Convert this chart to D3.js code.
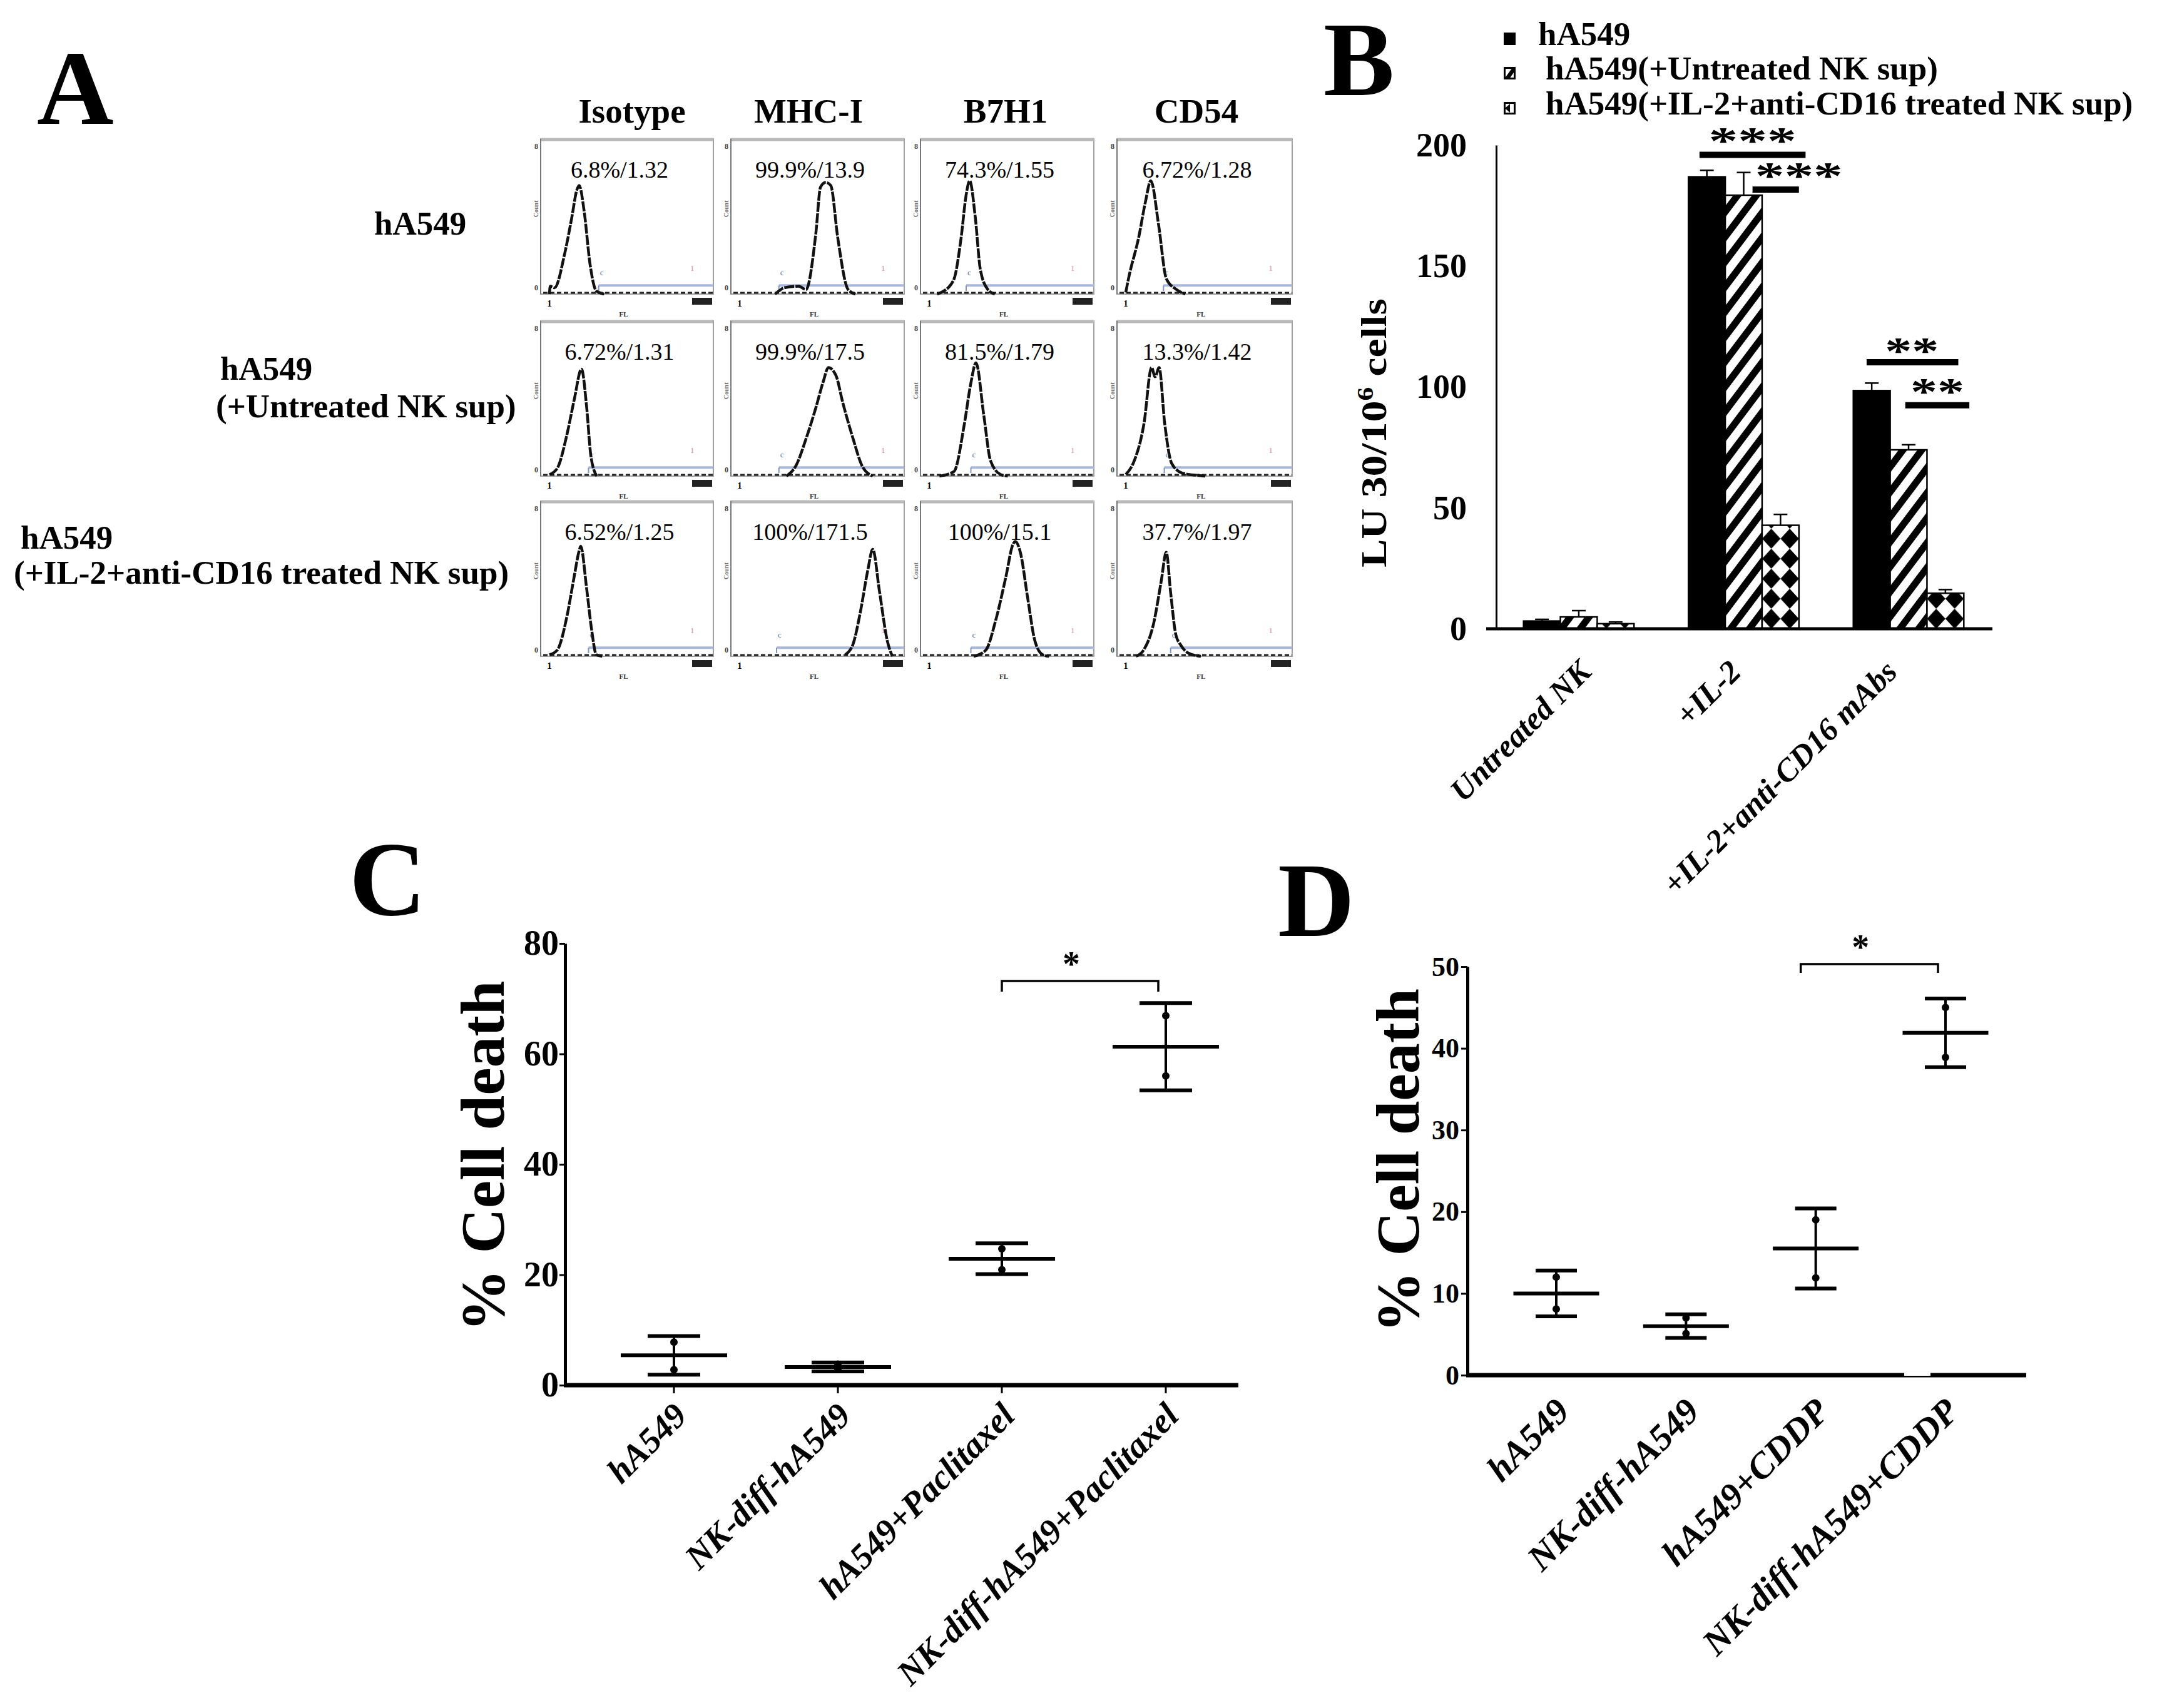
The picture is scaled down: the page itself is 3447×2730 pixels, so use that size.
<!DOCTYPE html>
<html><head><meta charset="utf-8">
<script src="https://cdn.jsdelivr.net/npm/d3@7"></script>
<style>body{margin:0;background:#fff} svg{display:block}</style>
</head><body><svg id="fig" width="3447" height="2730"></svg>
<script>
// ---------------- DATA ----------------
// Panel A : flow-cytometry histograms
const histCols = ["Isotype", "MHC-I", "B7H1", "CD54"];
const histRowLabels = [["hA549"], ["hA549", "(+Untreated NK sup)"], ["hA549", "(+IL-2+anti-CD16 treated NK sup)"]];
const histStats = [
  ["6.8%/1.32", "99.9%/13.9", "74.3%/1.55", "6.72%/1.28"],
  ["6.72%/1.31", "99.9%/17.5", "81.5%/1.79", "13.3%/1.42"],
  ["6.52%/1.25", "100%/171.5", "100%/15.1", "37.7%/1.97"]
];
// [log10 decade, relative height] points
const histCurves = [
  [
    [[0,0],[0.02,0.05],[0.13,0.04],[0.39,0.26],[0.57,0.49],[0.7,0.67],[0.76,0.70],[0.89,0.53],[1.04,0.19],[1.2,0.02],[1.4,0]],
    [[0.9,0],[1.0,0.02],[1.13,0.04],[1.5,0.05],[1.69,0.03],[1.94,0.39],[2.06,0.69],[2.19,0.72],[2.32,0.70],[2.5,0.36],[2.76,0.03],[2.95,0]],
    [[0.2,0],[0.3,0.01],[0.62,0.09],[0.81,0.36],[0.94,0.64],[1.03,0.73],[1.17,0.5],[1.3,0.16],[1.49,0.03],[1.67,0]],
    [[0,0.01],[0.07,0.1],[0.33,0.37],[0.5,0.6],[0.63,0.73],[0.83,0.44],[1.02,0.1],[1.27,0.03],[1.5,0]]
  ],
  [
    [[0,0.01],[0.2,0.05],[0.45,0.27],[0.64,0.5],[0.82,0.69],[0.95,0.45],[1.06,0.13],[1.21,0]],
    [[1.19,0],[1.44,0.07],[1.69,0.24],[1.94,0.44],[2.13,0.61],[2.26,0.70],[2.45,0.65],[2.63,0.47],[2.89,0.24],[3.13,0.06],[3.39,0]],
    [[0.26,0],[0.63,0.03],[0.89,0.33],[1.06,0.6],[1.19,0.73],[1.39,0.39],[1.56,0.1],[1.82,0.01],[2.0,0]],
    [[0,0.01],[0.2,0.09],[0.46,0.34],[0.65,0.7],[0.74,0.64],[0.84,0.7],[0.98,0.34],[1.16,0.08],[1.42,0.02],[1.8,0.005],[2.0,0]]
  ],
  [
    [[0,0.01],[0.2,0.04],[0.45,0.26],[0.63,0.51],[0.76,0.68],[0.8,0.71],[0.95,0.44],[1.08,0.17],[1.2,0.01],[1.35,0]],
    [[2.69,0.01],[2.89,0.08],[3.07,0.28],[3.26,0.55],[3.39,0.69],[3.56,0.42],[3.76,0.1],[3.89,0]],
    [[1.13,0],[1.44,0.04],[1.69,0.23],[1.95,0.51],[2.13,0.72],[2.19,0.74],[2.32,0.67],[2.51,0.37],[2.69,0.1],[2.89,0.01],[3.05,0]],
    [[0.26,0],[0.45,0.04],[0.7,0.21],[0.89,0.48],[1.02,0.67],[1.13,0.41],[1.26,0.14],[1.39,0.07],[1.58,0.02],[1.89,0]]
  ]
];
const histGateStart = [[1.26, 1.0, 0.94, 0.95], [1.0, 1.0, 1.06, 0.97], [1.0, 0.94, 1.06, 1.13]];

// Panel B : grouped bars
const bCategories = ["Untreated NK", "+IL-2", "+IL-2+anti-CD16 mAbs"];
const bSeries = ["hA549", "hA549(+Untreated NK sup)", "hA549(+IL-2+anti-CD16 treated NK sup)"];
const bValues = [[3.2, 186.9, 98.5], [4.9, 179.3, 74.0], [2.1, 42.8, 14.7]];
const bErrors = [[0.7, 2.7, 3.1], [2.6, 9.4, 2.1], [0.7, 4.5, 1.5]];
const bTicks = [0, 50, 100, 150, 200];
const bSigLabels = ["***", "***", "**", "**"];
const bSigGroup = [1, 1, 2, 2];
const bSigValue = [196, 181.6, 110.2, 92.4];

// Panel C : % cell death, paclitaxel
const cCategories = ["hA549", "NK-diff-hA549", "hA549+Paclitaxel", "NK-diff-hA549+Paclitaxel"];
const cMean = [5.4, 3.3, 22.9, 61.3];
const cSD = [3.5, 0.8, 2.8, 7.9];
const cPoints = [[7.8, 2.8], [3.8, 2.9], [24.7, 20.9], [66.9, 56.0]];
const cTicks = [0, 20, 40, 60, 80];

// Panel D : % cell death, CDDP
const dCategories = ["hA549", "NK-diff-hA549", "hA549+CDDP", "NK-diff-hA549+CDDP"];
const dMean = [10.0, 6.0, 15.5, 41.9];
const dSD = [2.8, 1.45, 4.9, 4.2];
const dPoints = [[12.0, 8.1], [7.0, 5.1], [19.0, 11.9], [45.0, 38.9]];
const dTicks = [0, 10, 20, 30, 40, 50];

// ---------------- DRAWING ----------------
const FONT = "'Liberation Serif','Times New Roman',serif";
const svg = d3.select("#fig");
svg.append("rect").attr("width", 3447).attr("height", 2730).attr("fill", "#fff");
const defs = svg.append("defs");

function txt(g, s, x, y, size, opts = {}) {
  const t = g.append("text").attr("x", x).attr("y", y).text(s)
    .attr("font-family", FONT).attr("font-size", size)
    .attr("font-weight", opts.weight || "bold").attr("fill", opts.fill || "#000")
    .attr("text-anchor", opts.anchor || "start");
  if (opts.italic) t.attr("font-style", "italic");
  if (opts.transform) t.attr("transform", opts.transform);
  if (opts.dy) t.attr("dy", opts.dy);
  if (opts.len) t.attr("textLength", opts.len).attr("lengthAdjust", "spacingAndGlyphs");
  return t;
}

// Panel letters
[["A", 59, 198], ["B", 2115, 152], ["C", 558, 1462], ["D", 2042, 1496]].forEach(([l, x, y]) => txt(svg, l, x, y, 170));

// ===== Panel A =====
const gA = svg.append("g");
const aColX = [864, 1168, 1471, 1785];
const aColW = [276, 277, 277, 280];
const aRowY = [222, 513, 801];
const aBoxH = 248;
const aHeadX = [1010, 1292, 1607, 1912];
histCols.forEach((c, i) => txt(gA, c, aHeadX[i], 196, 55, { anchor: "middle" }));
const rowLabelPos = [[[598, 375]], [[352, 607], [345, 667]], [[33, 877], [22, 933]]];
histRowLabels.forEach((lines, r) => lines.forEach((s, k) => txt(gA, s, rowLabelPos[r][k][0], rowLabelPos[r][k][1], 53)));

histCurves.forEach((row, r) => row.forEach((pts, c) => {
  const x0 = aColX[c], w = aColW[c], y0 = aRowY[r], yb = y0 + aBoxH;
  const xs = d3.scaleLinear().domain([0, 4]).range([x0 + 14, x0 + w - 12]);
  const ys = d3.scaleLinear().domain([0, 1]).range([yb, y0]);
  const g = gA.append("g");
  g.append("rect").attr("x", x0).attr("y", y0).attr("width", w).attr("height", aBoxH)
    .attr("fill", "none").attr("stroke", "#a0a0a0").attr("stroke-width", 2);
  g.append("line").attr("x1", x0).attr("x2", x0 + w).attr("y1", y0 + 1).attr("y2", y0 + 1)
    .attr("stroke", "#b8b8b8").attr("stroke-width", 5);
  g.append("line").attr("x1", x0).attr("x2", x0).attr("y1", y0).attr("y2", yb).attr("stroke", "#777").attr("stroke-width", 2);
  txt(g, "8", x0 - 4, y0 + 16, 12, { anchor: "end", fill: "#444" });
  txt(g, "0", x0 - 4, yb - 6, 12, { anchor: "end", fill: "#444" });
  txt(g, "Count", x0 - 4, y0 + aBoxH * 0.45, 10, { anchor: "middle", fill: "#666", transform: `rotate(-90,${x0 - 4},${y0 + aBoxH * 0.45})` });
  const gx = xs(histGateStart[r][c]);
  g.append("line").attr("x1", gx).attr("x2", x0 + w).attr("y1", ys(0.055)).attr("y2", ys(0.055))
    .attr("stroke", "#a9b8dc").attr("stroke-width", 4);
  g.append("line").attr("x1", gx).attr("x2", gx).attr("y1", ys(0.055)).attr("y2", ys(0.02))
    .attr("stroke", "#7f93c8").attr("stroke-width", 2);
  txt(g, "c", gx + 2, ys(0.12), 13, { fill: "#5570b0", weight: "normal" });
  txt(g, "1", xs(3.6), ys(0.15), 13, { fill: "#e08aa0", weight: "normal" });
  g.append("line").attr("x1", x0 + 4).attr("x2", x0 + w).attr("y1", yb - 2).attr("y2", yb - 2)
    .attr("stroke", "#222").attr("stroke-width", 3).attr("stroke-dasharray", "7,4");
  txt(g, "1", xs(0), yb + 20, 15, { anchor: "middle" });
  g.append("rect").attr("x", x0 + w - 34).attr("y", yb + 6).attr("width", 32).attr("height", 11).attr("fill", "#222");
  txt(g, "FL", x0 + w * 0.48, yb + 36, 11, { anchor: "middle", fill: "#333" });
  g.append("path").datum(pts)
    .attr("d", d3.line().x(d => xs(d[0])).y(d => ys(d[1])).curve(d3.curveMonotoneX))
    .attr("fill", "none").attr("stroke", "#111").attr("stroke-width", 4.5)
    .attr("stroke-dasharray", "16,2").attr("stroke-linejoin", "round");
  txt(g, histStats[r][c], x0 + w / 2 - 12, y0 + 62, 38, { anchor: "middle", weight: "normal" });
}));

// ===== Panel B =====
const gB = svg.append("g");
const xB = d3.scaleBand().domain(bCategories).range([2382, 3191]).paddingInner(0.33).paddingOuter(0.2);
const xBs = d3.scaleBand().domain(d3.range(bSeries.length)).range([0, xB.bandwidth()]);
const yB = d3.scaleLinear().domain([0, 200]).range([1005, 232]);

const hatch = defs.append("pattern").attr("id", "hatch").attr("patternUnits", "userSpaceOnUse")
  .attr("width", 24).attr("height", 24).attr("patternTransform", "rotate(37)");
hatch.append("rect").attr("width", 24).attr("height", 24).attr("fill", "#fff");
hatch.append("rect").attr("width", 11).attr("height", 24).attr("fill", "#000");
bCategories.forEach((cat, gi) => {
  const bw = xBs.bandwidth();
  const p = defs.append("pattern").attr("id", "diam" + gi).attr("patternUnits", "userSpaceOnUse")
    .attr("x", xB(cat) + xBs(2)).attr("y", yB(0)).attr("width", bw / 2).attr("height", 32);
  p.append("rect").attr("width", bw / 2).attr("height", 32).attr("fill", "#fff");
  p.append("polygon").attr("points", `${bw / 4},0 ${bw / 2},16 ${bw / 4},32 0,16`).attr("fill", "#000");
});
const fills = (s, gi) => s === 0 ? "#000" : s === 1 ? "url(#hatch)" : `url(#diam${gi})`;

bSeries.forEach((ser, s) => {
  bCategories.forEach((cat, gi) => {
    const v = bValues[s][gi], e = bErrors[s][gi];
    const x = xB(cat) + xBs(s), bw = xBs.bandwidth();
    gB.append("line").attr("x1", x + bw / 2).attr("x2", x + bw / 2).attr("y1", yB(v)).attr("y2", yB(v + e))
      .attr("stroke", "#000").attr("stroke-width", 2.5);
    gB.append("line").attr("x1", x + bw / 2 - 11).attr("x2", x + bw / 2 + 11).attr("y1", yB(v + e)).attr("y2", yB(v + e))
      .attr("stroke", "#000").attr("stroke-width", 2.5);
    gB.append("rect").attr("x", x).attr("y", yB(v)).attr("width", bw).attr("height", yB(0) - yB(v))
      .attr("fill", fills(s, gi)).attr("stroke", "#000").attr("stroke-width", 2.5);
  });
});
const gyB = gB.append("g").attr("transform", "translate(2391,0)")
  .call(d3.axisLeft(yB).tickValues(bTicks).tickSize(0).tickSizeOuter(0).tickPadding(47));
gyB.attr("font-family", FONT).attr("font-size", 54).attr("font-weight", "bold");
gyB.select(".domain").attr("stroke", "#000").attr("stroke-width", 3);
gB.append("line").attr("x1", 2375).attr("x2", 3184).attr("y1", yB(0)).attr("y2", yB(0)).attr("stroke", "#000").attr("stroke-width", 5);
const bLabelShift = [10, -14, -28];
bCategories.forEach((cat, i) => {
  const x = xB(cat) + xB.bandwidth() / 2 + bLabelShift[i], y = 1064;
  txt(gB, cat, x, y, 51, { anchor: "end", italic: true, dy: "0.35em", transform: `rotate(-45,${x},${y})` });
});
const yLabB = gB.append("text").attr("transform", "translate(2215,692) rotate(-90)")
  .attr("text-anchor", "middle").attr("font-family", FONT).attr("font-weight", "bold").attr("font-size", 56)
  .attr("textLength", 430).attr("lengthAdjust", "spacingAndGlyphs");
yLabB.append("tspan").text("LU 30/10");
yLabB.append("tspan").text("6").attr("font-size", 36).attr("dy", -21);
yLabB.append("tspan").text(" cells").attr("dy", 21);
const sigF0 = [0.1, 0.58, 0.12, 0.47], sigF1 = [1.06, 1.0, 0.95, 1.05], sigTxt = [0.58, 1.0, 0.53, 0.76];
bSigLabels.forEach((s, i) => {
  const gx = xB(bCategories[bSigGroup[i]]), bw = xB.bandwidth();
  const y = yB(bSigValue[i]);
  gB.append("line").attr("x1", gx + sigF0[i] * bw).attr("x2", gx + sigF1[i] * bw).attr("y1", y).attr("y2", y)
    .attr("stroke", "#000").attr("stroke-width", 10);
  txt(gB, s, gx + sigTxt[i] * bw, y + (i === 2 ? 2 : -2), 62, { anchor: "middle", len: s.length === 3 ? 140 : 86 });
});
const legY = [72, 127, 183], legTX = [2458, 2470, 2470];
bSeries.forEach((s, i) => {
  const sq = gB.append("g").attr("transform", `translate(2403,${legY[i] - 20})`);
  if (i === 0) sq.append("rect").attr("width", 19).attr("height", 20).attr("fill", "#000");
  else {
    sq.append("rect").attr("x", 1.5).attr("y", 1.5).attr("width", 16).attr("height", 17).attr("fill", "#fff").attr("stroke", "#000").attr("stroke-width", 3);
    if (i === 1) sq.append("polygon").attr("points", "1,19 9,19 18,6 18,1 14,1").attr("fill", "#000");
    else sq.append("polygon").attr("points", "2,10 10,3 10,17").attr("fill", "#000");
  }
  txt(gB, s, legTX[i], legY[i], 53);
});

// ===== Panels C & D (scatter with mean ± SD) =====
function dotPanel(cfg) {
  const g = svg.append("g");
  const y = d3.scaleLinear().domain(cfg.domain).range(cfg.yRange);
  const x = d3.scalePoint().domain(cfg.cats).range(cfg.xRange);
  const ga = g.append("g").attr("transform", `translate(${cfg.axisX},0)`)
    .call(d3.axisLeft(y).tickValues(cfg.ticks).tickSize(cfg.tickLen).tickSizeOuter(0).tickPadding(cfg.pad));
  ga.attr("font-family", FONT).attr("font-size", cfg.tickFont).attr("font-weight", "bold");
  ga.select(".domain").attr("stroke", "#000").attr("stroke-width", 5);
  ga.selectAll(".tick line").attr("stroke-width", 3);
  g.append("line").attr("x1", cfg.axisX - 2).attr("x2", cfg.axisEnd).attr("y1", y(0)).attr("y2", y(0))
    .attr("stroke", "#000").attr("stroke-width", 7);
  if (cfg.xTicks) cfg.cats.forEach(c => g.append("line").attr("x1", x(c)).attr("x2", x(c)).attr("y1", y(0)).attr("y2", y(0) + 13).attr("stroke", "#000").attr("stroke-width", 3));
  if (cfg.gap) g.append("rect").attr("x", cfg.gap[0]).attr("y", y(0) - 5).attr("width", cfg.gap[1] - cfg.gap[0]).attr("height", 6).attr("fill", "#fff");
  cfg.cats.forEach((c, i) => {
    const cx = x(c), m = cfg.mean[i], sd = cfg.sd[i];
    g.append("line").attr("x1", cx).attr("x2", cx).attr("y1", y(m - sd)).attr("y2", y(m + sd)).attr("stroke", "#000").attr("stroke-width", 4);
    [m - sd, m + sd].forEach(v => g.append("line").attr("x1", cx - cfg.capW / 2).attr("x2", cx + cfg.capW / 2)
      .attr("y1", y(v)).attr("y2", y(v)).attr("stroke", "#000").attr("stroke-width", 6));
    g.append("line").attr("x1", cx - cfg.meanW / 2).attr("x2", cx + cfg.meanW / 2).attr("y1", y(m)).attr("y2", y(m))
      .attr("stroke", "#000").attr("stroke-width", 6);
    cfg.points[i].forEach(v => g.append("circle").attr("cx", cx).attr("cy", y(v)).attr("r", 6).attr("fill", "#000"));
    const lx = cx + 10, ly = cfg.labelY;
    txt(g, c, lx, ly, cfg.labelFont, { anchor: "end", italic: true, dy: "0.35em", transform: `rotate(-45,${lx},${ly})` });
  });
  const x1 = x(cfg.cats[2]) + cfg.sigOff[0], x2 = x(cfg.cats[3]) + cfg.sigOff[1], by = y(cfg.sigVal);
  g.append("path").attr("d", `M${x1},${by + cfg.sigDrop}V${by}H${x2}V${by + cfg.sigDrop}`)
    .attr("fill", "none").attr("stroke", "#000").attr("stroke-width", 3.5);
  txt(g, "*", (x1 + x2) / 2 - 14, by - 8, 56, { anchor: "middle" });
  g.append("text").attr("transform", `translate(${cfg.yLabX},${cfg.yLabY}) rotate(-90)`).attr("text-anchor", "middle")
    .attr("font-family", FONT).attr("font-weight", "bold").attr("font-size", cfg.yLabFont).text("% Cell death");
}

dotPanel({
  cats: cCategories, mean: cMean, sd: cSD, points: cPoints, ticks: cTicks, domain: [0, 80],
  yRange: [2214, 1508], xRange: [1077, 1863], axisX: 903, axisEnd: 1979, tickLen: 9, pad: 1, tickFont: 56,
  capW: 84, meanW: 170, labelY: 2252, labelFont: 56, xTicks: true, sigVal: 73.2, sigDrop: 17, sigOff: [0, -12],
  yLabX: 805, yLabY: 1848, yLabFont: 100
});
dotPanel({
  cats: dCategories, mean: dMean, sd: dSD, points: dPoints, ticks: dTicks, domain: [0, 50],
  yRange: [2198, 1545], xRange: [2487, 3109], axisX: 2345, axisEnd: 3238, tickLen: 10, pad: 3, tickFont: 44,
  capW: 66, meanW: 137, labelY: 2245, labelFont: 58, xTicks: false, gap: [3043, 3085], sigVal: 50.3, sigDrop: 14, sigOff: [-24, -12],
  yLabX: 2267, yLabY: 1855, yLabFont: 98
});
</script>
</body></html>
